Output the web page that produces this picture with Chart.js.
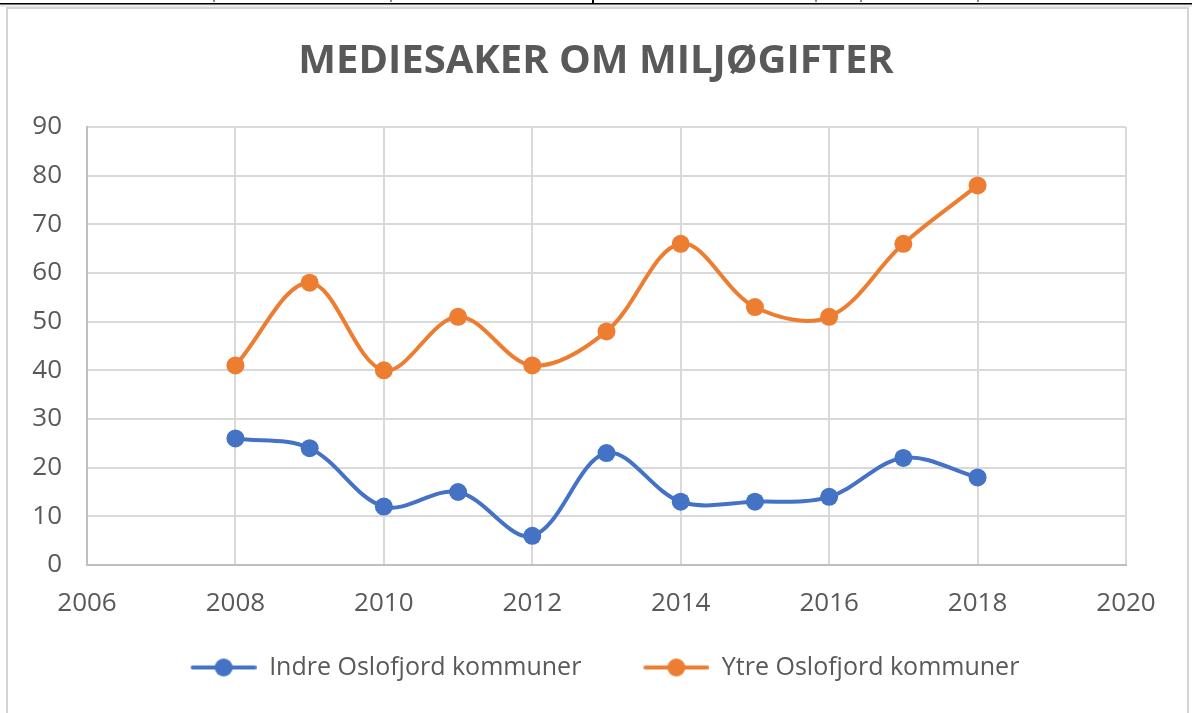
<!DOCTYPE html>
<html>
<head>
<meta charset="utf-8">
<title>Mediesaker om miljøgifter</title>
<script src="https://cdn.jsdelivr.net/npm/chart.js@4/dist/chart.umd.min.js"></script>
<style>
    html, body { margin: 0; padding: 0; background: #ffffff; }
    #wrap { position: relative; width: 1192px; height: 713px; }
</style>
</head>
<body>
<div id="wrap"><canvas id="chart" width="1192" height="713"></canvas></div>
<script>
"use strict";

// Data
const years = [2008, 2009, 2010, 2011, 2012, 2013, 2014, 2015, 2016, 2017, 2018];
const indre = [26, 24, 12, 15, 6, 23, 13, 13, 14, 22, 18];
const ytre = [41, 58, 40, 51, 41, 48, 66, 53, 51, 66, 78];
const seriesNames = ['Indre Oslofjord kommuner', 'Ytre Oslofjord kommuner'];
const chartTitle = 'MEDIESAKER OM MILJØGIFTER';
const xTicks = [2006, 2008, 2010, 2012, 2014, 2016, 2018, 2020];
const yTicks = [0, 10, 20, 30, 40, 50, 60, 70, 80, 90];

var InitChart = function () {
    var blueColor = '#4472c4';
    var orangeColor = '#ed7d31';
    var textColor = '#595959';
    var gridColor = '#d9d9d9';
    var symbolGap = 18; // empty space left of each legend symbol

    const toPoints = (values) => years.map((y, i) => ({ x: y, y: values[i] }));

    // line + dot symbol for the legend
    const legendSymbol = (color) => {
        const c = document.createElement('canvas');
        c.width = 66 + symbolGap;
        c.height = 24;
        const g = c.getContext('2d');
        g.strokeStyle = color;
        g.lineWidth = 4;
        g.lineCap = 'round';
        g.beginPath();
        g.moveTo(symbolGap + 2, 12);
        g.lineTo(symbolGap + 64, 12);
        g.stroke();
        g.fillStyle = color;
        g.beginPath();
        g.arc(symbolGap + 33, 12, 9, 0, Math.PI * 2);
        g.fill();
        return c;
    };

    // outer frame and the cut edge above it
    const framePlugin = {
        id: 'frame',
        beforeDraw(chart) {
            const ctx = chart.ctx;
            ctx.save();
            ctx.fillStyle = '#ececec';
            ctx.fillRect(0, 4, 1192, 3);
            ctx.fillStyle = '#000000';
            ctx.fillRect(0, 3, 1192, 1.5);
            ctx.fillRect(592, 0, 2, 4);
            ctx.fillStyle = '#8a8a8a';
            [213, 390, 815, 860, 977].forEach(x => ctx.fillRect(x, 0, 2, 2));
            ctx.strokeStyle = '#d4d4d4';
            ctx.lineWidth = 2;
            ctx.strokeRect(7, 8, 1181, 720);
            ctx.restore();
        }
    };

    const build = function () {
        Chart.defaults.font.family = "'Open Sans', sans-serif";
        Chart.defaults.color = textColor;

        const ctx = document.getElementById('chart').getContext('2d');
        const colors = [blueColor, orangeColor];
        const symbols = [legendSymbol(blueColor), legendSymbol(orangeColor)];

        new Chart(ctx, {
            type: 'line',
            data: {
                datasets: [
                    {
                        label: seriesNames[0],
                        data: toPoints(indre),
                        borderColor: blueColor,
                        backgroundColor: blueColor,
                        borderWidth: 4,
                        pointRadius: 9,
                        pointHoverRadius: 9,
                        pointBorderWidth: 0,
                        tension: 0.35
                    },
                    {
                        label: seriesNames[1],
                        data: toPoints(ytre),
                        borderColor: orangeColor,
                        backgroundColor: orangeColor,
                        borderWidth: 4,
                        pointRadius: 9,
                        pointHoverRadius: 9,
                        pointBorderWidth: 0,
                        tension: 0.35
                    }
                ]
            },
            options: {
                responsive: false,
                animation: false,
                events: [],
                layout: { padding: { left: 0, right: 0, top: 0, bottom: 23 } },
                plugins: {
                    title: {
                        display: true,
                        text: chartTitle,
                        color: textColor,
                        font: { size: 40, weight: 'bold' },
                        padding: { top: 38, bottom: 41 }
                    },
                    legend: {
                        position: 'bottom',
                        labels: {
                            usePointStyle: true,
                            pointStyleWidth: 66 + symbolGap,
                            padding: 44,
                            color: textColor,
                            font: { size: 25 },
                            generateLabels: (chart) => chart.data.datasets.map((ds, i) => ({
                                text: ds.label,
                                fontColor: textColor,
                                pointStyle: symbols[i],
                                strokeStyle: colors[i],
                                fillStyle: colors[i],
                                lineWidth: 0,
                                datasetIndex: i
                            }))
                        }
                    },
                    tooltip: { enabled: false }
                },
                scales: {
                    x: {
                        type: 'linear',
                        min: xTicks[0],
                        max: xTicks[xTicks.length - 1],
                        afterBuildTicks: (axis) => { axis.ticks = xTicks.map(v => ({ value: v })); },
                        afterFit: (axis) => { axis.height = 46; },
                        ticks: {
                            color: textColor,
                            font: { size: 26 },
                            padding: 23,
                            maxRotation: 0,
                            callback: (v) => String(v)
                        },
                        grid: { color: gridColor, lineWidth: 2, drawTicks: false },
                        border: { color: '#bfbfbf', width: 2 }
                    },
                    y: {
                        min: yTicks[0],
                        max: yTicks[yTicks.length - 1],
                        afterBuildTicks: (axis) => { axis.ticks = yTicks.map(v => ({ value: v })); },
                        afterFit: (axis) => { axis.width = 87; },
                        ticks: {
                            color: textColor,
                            font: { size: 26 },
                            padding: 25
                        },
                        grid: { color: gridColor, lineWidth: 2, drawTicks: false },
                        border: { color: '#bfbfbf', width: 2 }
                    },
                    // empty strip on the right so the plot ends where the frame margin starts
                    edge: {
                        type: 'linear',
                        position: 'right',
                        display: true,
                        afterFit: (axis) => { axis.width = 66; },
                        ticks: { display: false },
                        grid: { display: false, drawTicks: false },
                        border: { display: false }
                    }
                }
            },
            plugins: [framePlugin]
        });
    };

    return {
        init: function () {
            build();
        }
    };
}();

document.addEventListener('DOMContentLoaded', function () {
    InitChart.init();
});
</script>
</body>
</html>
